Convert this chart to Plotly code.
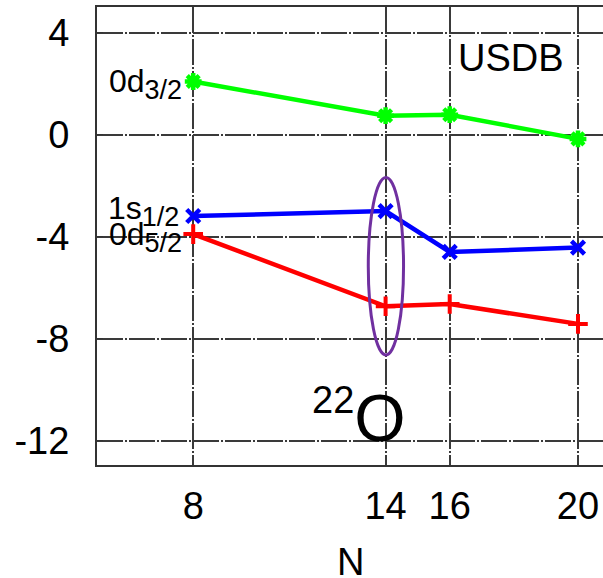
import plotly.graph_objects as go

N = [8, 14, 16, 20]
d32 = [2.08, 0.74, 0.78, -0.17]
s12 = [-3.19, -3.0, -4.6, -4.43]
d52 = [-3.9, -6.73, -6.64, -7.42]
x_ticks = [8, 14, 16, 20]
y_ticks = [4, 0, -4, -8, -12]

FONT = "Liberation Sans"

fig = go.Figure()
fig.add_trace(go.Scatter(x=N, y=d32, mode="lines+markers",
                         line=dict(color="#00FF00", width=4.5),
                         marker=dict(symbol="asterisk-open", size=14, color="#00FF00",
                                     line=dict(color="#00FF00", width=4.5))))
fig.add_trace(go.Scatter(x=N, y=s12, mode="lines+markers",
                         line=dict(color="#0000FF", width=4.5),
                         marker=dict(symbol="x-thin-open", size=13, color="#0000FF",
                                     line=dict(color="#0000FF", width=4.5))))
fig.add_trace(go.Scatter(x=N, y=d52, mode="lines+markers",
                         line=dict(color="#FF0000", width=4.5),
                         marker=dict(symbol="cross-thin-open", size=14, color="#FF0000",
                                     line=dict(color="#FF0000", width=4))))

grid = dict(showgrid=True, gridcolor="#3a3a3a", gridwidth=1.5, griddash="26px,2px,2px,2px")

fig.update_xaxes(range=[5, 20.78], tickvals=x_ticks, ticktext=[str(v) for v in x_ticks],
                 showline=True, linecolor="#333", linewidth=2, mirror=True, automargin=False,
                 ticks="", ticklabelstandoff=6, zeroline=False,
                 tickfont=dict(family=FONT, size=38, color="black"),
                 **grid)
fig.update_yaxes(range=[-12.95, 5], tickvals=y_ticks, ticktext=[str(v) for v in y_ticks],
                 showline=True, linecolor="#333", linewidth=2, mirror=False, automargin=False,
                 ticks="inside", ticklen=6, tickcolor="#333", ticklabelstandoff=18, zeroline=False,
                 tickfont=dict(family=FONT, size=38, color="black"),
                 **grid)

fig.add_shape(type="circle", xref="x", yref="y", x0=13.46, x1=14.56, y0=-8.64, y1=-1.68,
              line=dict(color="#7030A0", width=3))

# x-axis title
fig.add_annotation(x=0.5, y=-0.162, xref="paper", yref="paper", text="N", showarrow=False,
                   xanchor="center", yanchor="top", font=dict(family=FONT, size=38, color="black"))

lab_font = dict(family=FONT, size=32, color="black")
def sub_label(main, sub):
    return main + '<sub><span style="font-size:27px">' + sub + '</span></sub>'

fig.add_annotation(x=N[0], y=d32[0], xref="x", yref="y", text=sub_label("0d", "3/2"),
                   showarrow=False, xanchor="right", yanchor="middle", xshift=-9, yshift=-2,
                   font=lab_font)
fig.add_annotation(x=N[0], y=s12[0], xref="x", yref="y", text=sub_label("1s", "1/2"),
                   showarrow=False, xanchor="right", yanchor="middle", xshift=-12, yshift=5,
                   font=lab_font)
fig.add_annotation(x=N[0], y=d52[0], xref="x", yref="y", text=sub_label("0d", "5/2"),
                   showarrow=False, xanchor="right", yanchor="middle", xshift=-9, yshift=-3,
                   font=lab_font)
fig.add_annotation(x=17.92, y=3.02, xref="x", yref="y", text="USDB", showarrow=False,
                   xanchor="center", yanchor="middle", font=dict(family=FONT, size=38, color="black"))
fig.add_annotation(x=13.18, y=-11.06, xref="x", yref="y",
                   text='<sup><span style="font-size:38px">22</span></sup>O', showarrow=False,
                   xanchor="center", yanchor="middle", font=dict(family=FONT, size=66, color="black"))

fig.update_layout(width=603, height=578, margin=dict(l=97, r=0, t=7, b=113),
                  paper_bgcolor="white", plot_bgcolor="white", showlegend=False,
                  font=dict(family=FONT))

fig.write_html("out.html")
